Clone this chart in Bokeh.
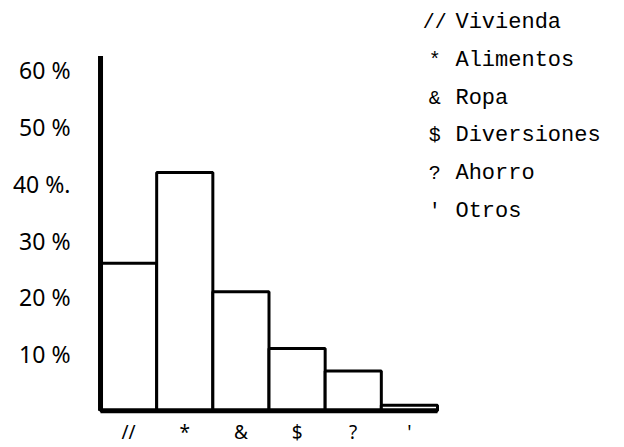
from bokeh.plotting import figure
from bokeh.models import Range1d, FixedTicker, ColumnDataSource
from bokeh.core.properties import value
from bokeh.embed import file_html
from bokeh.resources import INLINE

# ---- data ----
categories = ["Vivienda", "Alimentos", "Ropa", "Diversiones", "Ahorro", "Otros"]
symbols = ["//", "*", "&", "$", "?", "'"]
percent = [26, 42, 21, 11, 7, 1]
y_ticks = [10, 20, 30, 40, 50, 60]
y_tick_labels = ["10 %", "20 %", "30 %", "40 %.", "50 %", "60 %"]

p = figure(width=624, height=447, output_backend="svg", toolbar_location=None,
           x_range=Range1d(-0.214, 9.33), y_range=Range1d(-1.0, 72.3),
           min_border_left=88, min_border_right=0, min_border_top=0,
           min_border_bottom=29)
p.background_fill_color = "white"
p.border_fill_color = "white"
p.outline_line_color = None
p.grid.visible = False

n = len(percent)
left = list(range(n))
right = [i + 1 for i in range(n)]
src = ColumnDataSource(dict(left=left, right=right, top=percent,
                            bottom=[0] * n))
p.quad(left="left", right="right", top="top", bottom="bottom", source=src,
       fill_color="white", line_color="black", line_width=3)

# axis lines (hand drawn look)
p.segment(x0=[0], y0=[0], x1=[n], y1=[0], line_color="black", line_width=5)
p.segment(x0=[0], y0=[0], x1=[0], y1=[62.5], line_color="black", line_width=5)

# y axis
p.yaxis.ticker = FixedTicker(ticks=y_ticks)
p.yaxis.major_label_overrides = {t: l for t, l in zip(y_ticks, y_tick_labels)}
p.yaxis.axis_line_color = None
p.yaxis.major_tick_line_color = None
p.yaxis.minor_tick_line_color = None
p.yaxis.major_tick_out = 0
p.yaxis.major_tick_in = 0
p.yaxis.minor_tick_out = 0
p.yaxis.major_label_standoff = 18
p.yaxis.major_label_text_font = "Noto Sans"
p.yaxis.major_label_text_font_size = "23px"
p.yaxis.major_label_text_color = "black"

# x axis
centers = [i + 0.5 for i in range(n)]
p.xaxis.ticker = FixedTicker(ticks=centers)
p.xaxis.major_label_overrides = {c: s for c, s in zip(centers, symbols)}
p.xaxis.axis_line_color = None
p.xaxis.major_tick_line_color = None
p.xaxis.minor_tick_line_color = None
p.xaxis.major_tick_out = 0
p.xaxis.major_tick_in = 0
p.xaxis.minor_tick_out = 0
p.xaxis.major_label_standoff = 2
p.xaxis.major_label_text_font = "Noto Sans"
p.xaxis.major_label_text_font_size = "19px"
p.xaxis.major_label_text_color = "black"

# legend (typewritten)
row_y = [68.4 - i * 6.65 for i in range(n)]
leg = ColumnDataSource(dict(sx=[5.95] * n, tx=[6.32] * n, y=row_y,
                            sym=symbols, lab=categories))
p.text(x="sx", y="y", text="sym", source=leg, text_font=value("Liberation Mono"),
       text_font_size="20px", text_align="center", text_baseline="middle",
       text_color="black")
p.text(x="tx", y="y", text="lab", source=leg, text_font=value("Liberation Mono"),
       text_font_size="22px", text_align="left", text_baseline="middle",
       text_color="black")

open("out.html", "w").write(file_html(p, INLINE))
